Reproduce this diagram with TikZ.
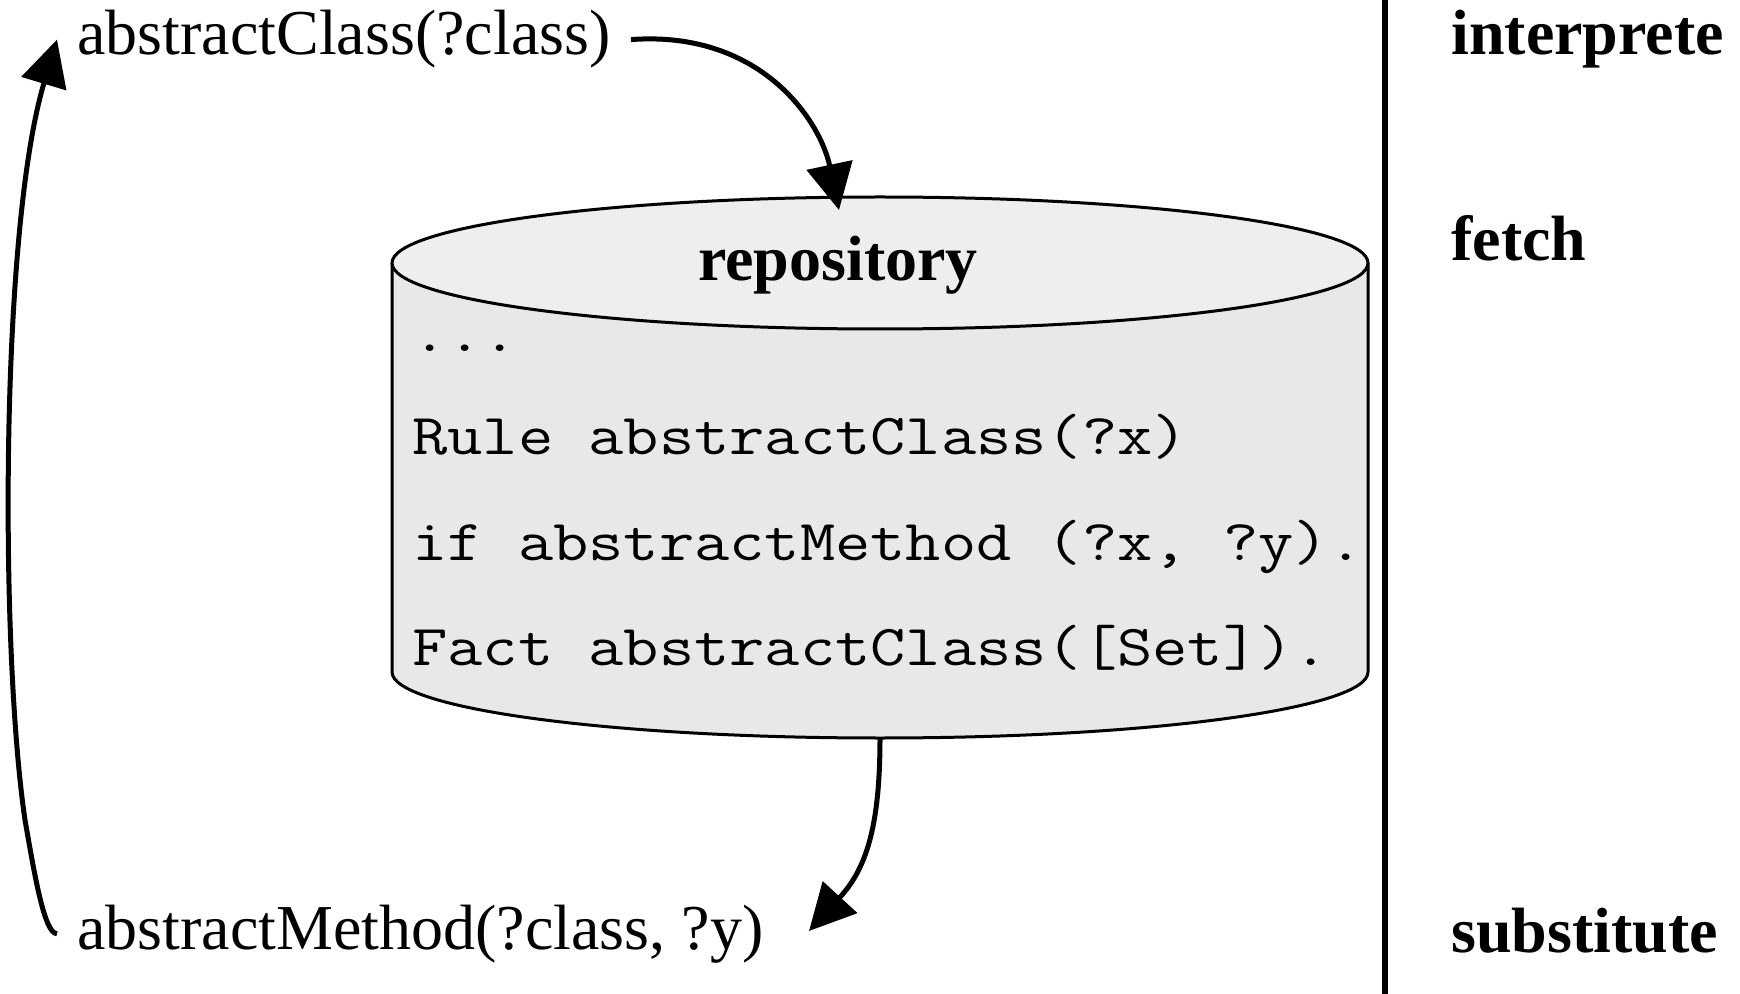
\documentclass[tikz,border=0pt]{standalone}
\usepackage{fontspec}
\setmainfont{Liberation Serif}
\setmonofont{Latin Modern Mono}[FakeStretch=1.18]
\usetikzlibrary{arrows.meta}

\definecolor{repotop}{HTML}{EEEEEE}
\definecolor{repobody}{HTML}{E8E8E8}

\begin{document}
\begin{tikzpicture}[x=0.5pt,y=0.5pt,
  goal/.style={anchor=base west,inner ysep=0pt,inner xsep=10pt,font=\fontsize{32}{38}\selectfont},
  stage/.style={anchor=base west,inner sep=0pt,font=\fontsize{32}{38}\selectfont\bfseries},
  codeline/.style={anchor=base west,inner sep=0pt,font=\fontsize{29}{35}\selectfont\ttfamily},
  flow/.style={line width=2.5pt,-{Triangle[length=23pt,width=23pt]}},
  rim/.style={line width=1.5pt},
]
\useasboundingbox (0,0) rectangle (1740,-994);

% repository drum
\fill[repobody] (392,-263) -- (392,-672)
  arc[start angle=180,end angle=360,x radius=488,y radius=66] -- (1368,-263) -- cycle;
\draw[rim] (392,-263) -- (392,-672)
  arc[start angle=180,end angle=360,x radius=488,y radius=66] -- (1368,-263);
\draw[rim,fill=repotop] (880,-263) ellipse[x radius=488,y radius=66];

\node[anchor=base,inner sep=0pt,font=\fontsize{32}{38}\selectfont\bfseries] (repo) at (838,-281) {repository};
\node[codeline] (l0) at (412,-352) {...};
\node[codeline] (l1) at (412,-455) {Rule abstractClass(?x)};
\node[codeline] (l2) at (412,-560) {if abstractMethod (?x, ?y).};
\node[codeline] (l3) at (412,-665) {Fact abstractClass([Set]).};

% goals
\node[goal] (ac) at (57,-55) {abstractClass(?class)};
\node[goal] (am) at (57,-949) {abstractMethod(?class, ?y)};

% phase column
\draw[line width=2.8pt] (1385,0) -- (1385,-994);
\node[stage] (s1) at (1451,-55) {interprete};
\node[stage] (s2) at (1451,-261) {fetch};
\node[stage] (s3) at (1451,-952) {substitute};

% connector ends
\coordinate (drumtop) at (839,-210);
\coordinate (drumbottom) at (880,-738);
\coordinate (amend) at (809,-931);

\draw[flow] (ac.east) .. controls (760,-30) and (820,-120) .. (drumtop);
\draw[flow] (drumbottom) .. controls (880,-830) and (865,-870) .. (amend);
\draw[flow] (am.west) .. controls (44,-934) and (34,-871) .. (25,-820)
  .. controls (0,-650) and (0,-230) .. (ac.west);
\end{tikzpicture}
\end{document}
